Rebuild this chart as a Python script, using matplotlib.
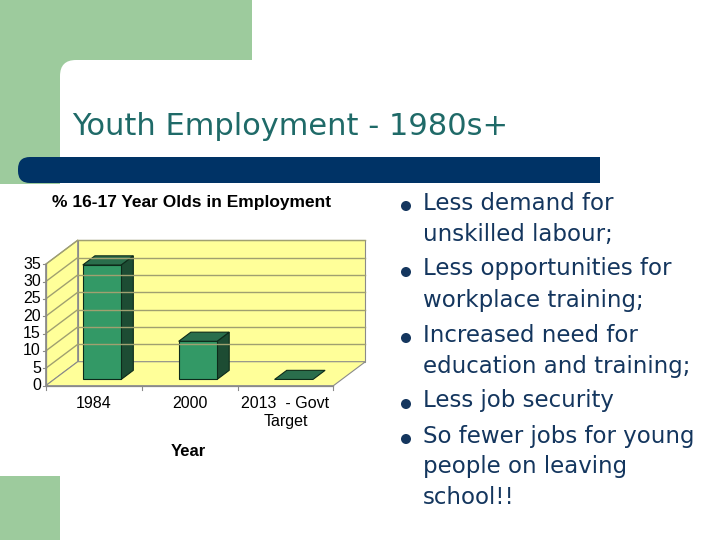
import matplotlib
matplotlib.use("Agg")
import matplotlib.pyplot as plt
from matplotlib.patches import Rectangle, Polygon, FancyBboxPatch, Circle

# chart data
years = ["1984", "2000", "2013  - Govt\nTarget"]
pct_employed = [33, 11, 0]
y_ticks = [0, 5, 10, 15, 20, 25, 30, 35]

slide_title = "Youth Employment - 1980s+"
chart_title = "% 16-17 Year Olds in Employment"
bullets = [
    ["Less demand for", "unskilled labour;"],
    ["Less opportunities for", "workplace training;"],
    ["Increased need for", "education and training;"],
    ["Less job security"],
    ["So fewer jobs for young", "people on leaving", "school!!"],
]

W, H = 720, 540
fig = plt.figure(figsize=(7.2, 5.4), dpi=100)

# slide background, pixel coords
bg = fig.add_axes([0, 0, 1, 1])
bg.set_xlim(0, W)
bg.set_ylim(H, 0)
bg.axis("off")

green = "#9dcb9d"
bg.add_patch(Rectangle((0, 0), 252, 184, color=green, lw=0))
bg.add_patch(FancyBboxPatch((60, 60), 800, 600, boxstyle="round,pad=0,rounding_size=16",
                            fc="white", ec="none"))
bg.add_patch(Rectangle((0, 476), 60, 70, color=green, lw=0))
navy = "#003366"
bg.add_patch(FancyBboxPatch((18, 157), 60, 26, boxstyle="round,pad=0,rounding_size=12",
                            fc=navy, ec="none"))
bg.add_patch(Rectangle((40, 157), 560, 26, color=navy, lw=0))

bg.text(72, 135, slide_title, fontsize=22, color="#1f6a68", va="baseline", ha="left",
        family="DejaVu Sans")

# bullet list
txt_col = "#14365e"
line_y = 203
for item in bullets:
    bg.add_patch(Circle((406, line_y + 3), 4.3, color=txt_col))
    for ln in item:
        bg.text(423, line_y, ln, fontsize=16.5, color=txt_col, va="center", ha="left",
                family="DejaVu Sans")
        line_y += 31
    line_y += 4

# chart title and axis title
bg.text(192, 202, chart_title, fontsize=12.5, fontweight="bold", ha="center", va="center",
        family="Liberation Sans")
bg.text(188, 452, "Year", fontsize=12, fontweight="bold", ha="center", va="center",
        family="Liberation Sans")

# 3d-ish bar chart on its own axes
px_x0, px_cat = 45.7, 95.9   # pixel of x=0, pixels per category
px_y0, px_unit = 385.7, 3.47  # pixel of y=0, pixels per unit
L, R, T, B = 20, 380, 185, 470
ax = fig.add_axes([L / W, 1 - B / H, (R - L) / W, (B - T) / H])
ax.set_xlim((L - px_x0) / px_cat, (R - px_x0) / px_cat)
ax.set_ylim((px_y0 - B) / px_unit, (px_y0 - T) / px_unit)
ax.axis("off")
ax.patch.set_alpha(0)

n = len(years)
ymax = y_ticks[-1]
DX = 32 / px_cat
DY = 24 / px_unit
wall = "#ffff99"
wall_edge = "#8a8a8a"
grid_col = "#a0a070"

ax.add_patch(Polygon([(DX, DY), (n + DX, DY), (n + DX, ymax + DY), (DX, ymax + DY)],
                     fc=wall, ec=wall_edge, lw=0.8))
ax.add_patch(Polygon([(0, 0), (DX, DY), (DX, ymax + DY), (0, ymax)],
                     fc=wall, ec=wall_edge, lw=0.8))
ax.add_patch(Polygon([(0, 0), (n, 0), (n + DX, DY), (DX, DY)],
                     fc=wall, ec=wall_edge, lw=0.8))
for v in y_ticks[1:]:
    ax.plot([DX, n + DX], [v + DY, v + DY], color=grid_col, lw=1.0)
    ax.plot([0, DX], [v, v + DY], color=grid_col, lw=1.0)
ax.plot([0, 0], [0, ymax], color=wall_edge, lw=0.9)
ax.plot([0, n], [0, 0], color=wall_edge, lw=0.9)
for v in y_ticks:
    ax.plot([-0.03, 0], [v, v], color=wall_edge, lw=0.8)
    ax.text(-0.05, v, str(v), ha="right", va="center", fontsize=11.5, family="Liberation Sans")
for i in range(n + 1):
    ax.plot([i, i], [0, -1.2], color=wall_edge, lw=0.8)

front_c, side_c, top_c = "#339966", "#1d4c33", "#2a6e4c"
d0, d1 = 0.26, 0.64
hw = 0.2
for i, (lab, v) in enumerate(zip(years, pct_employed)):
    c = i + 0.5
    xl, xr = c - hw, c + hw
    ox0, oy0 = d0 * DX, d0 * DY
    ox1, oy1 = d1 * DX, d1 * DY
    if v > 0:
        ax.add_patch(Polygon([(xr + ox0, oy0), (xr + ox1, oy1), (xr + ox1, v + oy1), (xr + ox0, v + oy0)],
                             fc=side_c, ec="#0d2a1a", lw=0.8))
        ax.add_patch(Polygon([(xl + ox0, oy0), (xr + ox0, oy0), (xr + ox0, v + oy0), (xl + ox0, v + oy0)],
                             fc=front_c, ec="#0d2a1a", lw=0.8))
    ax.add_patch(Polygon([(xl + ox0, v + oy0), (xr + ox0, v + oy0), (xr + ox1, v + oy1), (xl + ox1, v + oy1)],
                         fc=top_c, ec="#0d2a1a", lw=0.8))
    ax.text(c, -3.0, lab, ha="center", va="top", fontsize=11.5, family="Liberation Sans",
            linespacing=1.25)

fig.savefig("out.png", dpi=100)
